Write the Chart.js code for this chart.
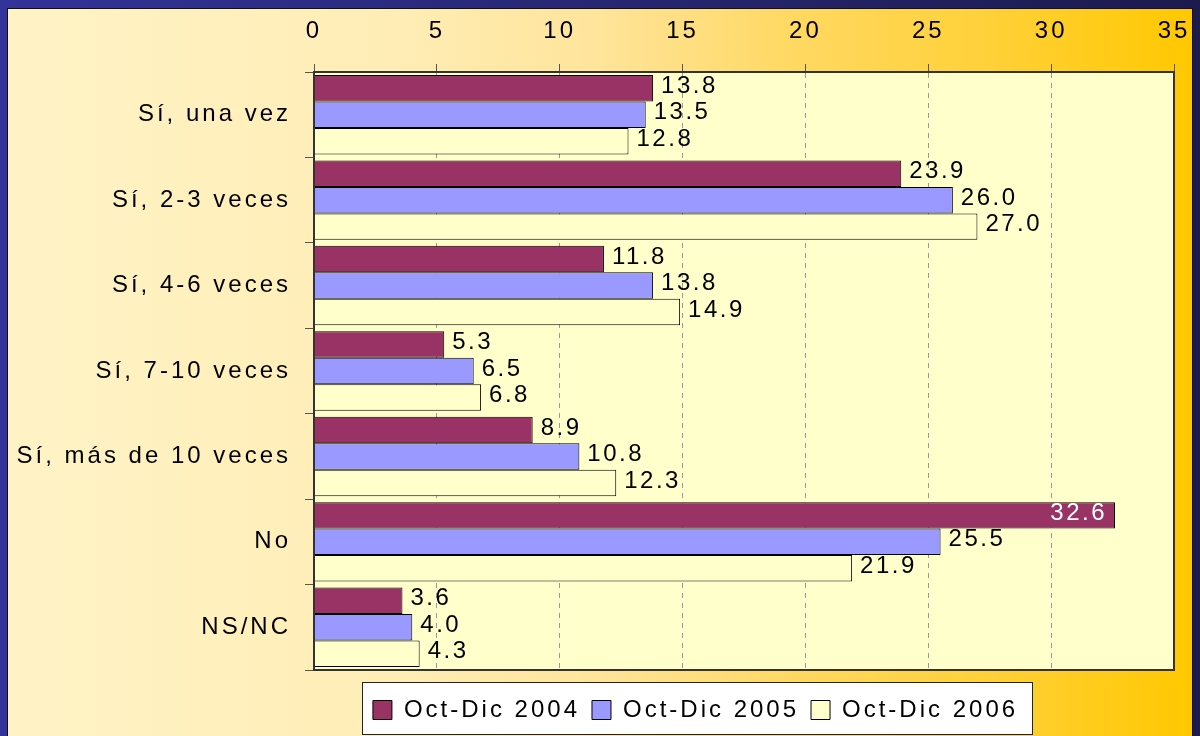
<!DOCTYPE html>
<html>
<head>
<meta charset="utf-8">
<script src="https://cdn.jsdelivr.net/npm/chart.js@4"></script>
<style>
  html, body { margin: 0; padding: 0; background: #333399; }
  #chart { display: block; }
</style>
</head>
<body>
<canvas id="chart" width="1200" height="736"></canvas>
<script>
// categories and series
const categories = ["Sí, una vez", "Sí, 2-3 veces", "Sí, 4-6 veces", "Sí, 7-10 veces", "Sí, más de 10 veces", "No", "NS/NC"];
const seriesNames = ["Oct-Dic 2004", "Oct-Dic 2005", "Oct-Dic 2006"];
const values2004 = [13.8, 23.9, 11.8, 5.3, 8.9, 32.6, 3.6];
const values2005 = [13.5, 26.0, 13.8, 6.5, 10.8, 25.5, 4.0];
const values2006 = [12.8, 27.0, 14.9, 6.8, 12.3, 21.9, 4.3];
const seriesColors = ["#993366", "#9999FF", "#FFFFCC"];
const axisMin = 0;
const axisMax = 35;
const axisStep = 5;

const FONT = "'Liberation Sans', Arial, sans-serif";

// letter spacing like the original (canvas state gets reset, so set it each time)
function setSpacing(chart) {
  chart.ctx.letterSpacing = "3px";
}

const backgroundPlugin = {
  id: "background",
  beforeLayout(chart) { setSpacing(chart); },
  afterLayout(chart) {
    // legend sits a bit right of the canvas centre in the original
    chart.legend.left += 105;
    chart.legend.right += 105;
  },
  beforeDraw(chart) {
    setSpacing(chart);
    const ctx = chart.ctx;
    const w = chart.width, h = chart.height;
    ctx.save();
    // dark blue frame
    let g = ctx.createLinearGradient(0, 0, w, 0);
    g.addColorStop(0, "#333399");
    g.addColorStop(1, "#1b1b4d");
    ctx.fillStyle = g;
    ctx.fillRect(0, 0, w, h);
    // yellow panel
    g = ctx.createLinearGradient(7, 0, w - 7, 0);
    g.addColorStop(0, "#FFF3C6");
    g.addColorStop(0.33, "#FFEDB5");
    g.addColorStop(0.5, "#FFE49A");
    g.addColorStop(0.67, "#FFD860");
    g.addColorStop(0.84, "#FFD035");
    g.addColorStop(1, "#FFC800");
    ctx.fillStyle = g;
    ctx.fillRect(7, 8, w - 14, h);
    ctx.strokeStyle = "#111";
    ctx.lineWidth = 1;
    ctx.strokeRect(7.5, 8.5, w - 15, h);
    // plot area
    const a = chart.chartArea;
    ctx.fillStyle = "#FFFFCC";
    ctx.fillRect(a.left, a.top, a.right - a.left, a.bottom - a.top);
    // white legend box
    const boxes = chart.legend.legendHitBoxes;
    if (boxes && boxes.length) {
      const first = boxes[0], last = boxes[boxes.length - 1];
      const x0 = first.left - 11, x1 = last.left + last.width + 14;
      const y0 = first.top - 16, y1 = first.top + 36;
      ctx.fillStyle = "#FFFFFF";
      ctx.fillRect(x0, y0, x1 - x0, y1 - y0);
      ctx.strokeStyle = "#222";
      ctx.strokeRect(Math.round(x0) + 0.5, Math.round(y0) + 0.5, Math.round(x1 - x0), Math.round(y1 - y0));
    }
    ctx.restore();
  },
  afterDatasetsDraw(chart) {
    const ctx = chart.ctx;
    const a = chart.chartArea;
    ctx.save();
    // frame of the plot area
    ctx.strokeStyle = "#333";
    ctx.lineWidth = 2;
    ctx.strokeRect(a.left, a.top, a.right - a.left, a.bottom - a.top);
    // value labels
    ctx.font = "24px " + FONT;
    ctx.letterSpacing = "2.5px";
    ctx.textBaseline = "middle";
    chart.data.datasets.forEach((ds, i) => {
      const meta = chart.getDatasetMeta(i);
      meta.data.forEach((bar, j) => {
        const v = ds.data[j];
        const txt = v.toFixed(1);
        if (v > 30) {
          ctx.fillStyle = "#FFFFFF";
          ctx.textAlign = "right";
          ctx.fillText(txt, bar.x - 8, bar.y - 2);
        } else {
          ctx.fillStyle = "#000000";
          ctx.textAlign = "left";
          ctx.fillText(txt, bar.x + 8, bar.y - 2);
        }
      });
    });
    ctx.restore();
  }
};

const allValues = [values2004, values2005, values2006];

new Chart(document.getElementById("chart"), {
  type: "bar",
  data: {
    labels: categories,
    datasets: seriesNames.map((name, i) => ({
      label: name,
      data: allValues[i],
      backgroundColor: seriesColors[i],
      borderColor: "#000000",
      borderWidth: 1,
      categoryPercentage: 0.93,
      barPercentage: 1
    }))
  },
  options: {
    indexAxis: "y",
    responsive: false,
    animation: false,
    devicePixelRatio: 1,
    layout: { padding: { left: 7, right: 26, top: 8, bottom: 4 } },
    plugins: {
      tooltip: { enabled: false },
      legend: {
        position: "bottom",
        title: { display: true, text: "", padding: 0, font: { size: 16, lineHeight: 1 } },
        labels: {
          color: "#000",
          font: { family: FONT, size: 24 },
          boxWidth: 19,
          boxHeight: 19,
          padding: 12
        }
      }
    },
    scales: {
      x: {
        position: "top",
        min: axisMin,
        max: axisMax,
        ticks: {
          stepSize: axisStep,
          color: "#000",
          font: { family: FONT, size: 24 },
          padding: 18
        },
        grid: {
          color: "#999999",
          tickColor: "#555555",
          tickLength: 8,
          lineWidth: 1
        },
        border: { display: true, color: "#333", width: 2, dash: [5, 5] },
        afterFit(scale) {
          scale.height = 64;
          scale.paddingLeft = 0;
          scale.paddingRight = 0;
        }
      },
      y: {
        type: "category",
        offset: true,
        ticks: {
          color: "#000",
          font: { family: FONT, size: 24 },
          padding: 14
        },
        grid: {
          offset: true,
          drawOnChartArea: false,
          drawTicks: true,
          tickLength: 9,
          tickColor: "#555555"
        },
        border: { display: true, color: "#333", width: 2 },
        afterFit(scale) { scale.width = 307; }
      }
    }
  },
  plugins: [backgroundPlugin]
});
</script>
</body>
</html>
